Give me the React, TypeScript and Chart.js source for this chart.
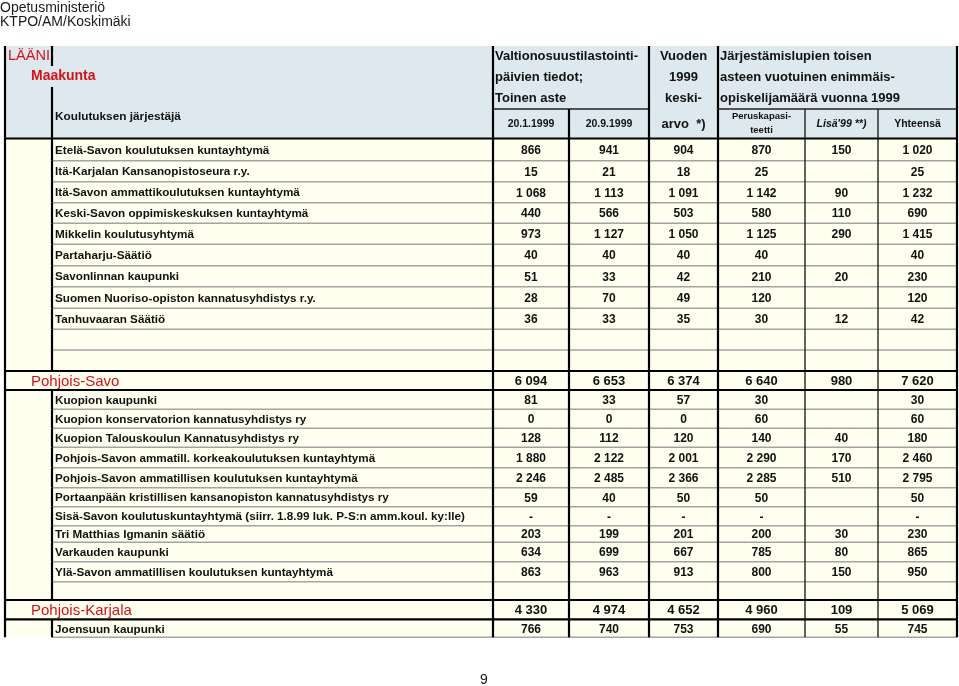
import React, { useEffect, useRef } from "react";
import { Chart, registerables } from "chart.js";

Chart.register(...registerables);

// ---------- texts ----------
const PAGE_HEADER = ["Opetusministeriö", "KTPO/AM/Koskimäki"];
const PAGE_NUMBER = "9";

const HEAD_LEVEL1 = "LÄÄNI";
const HEAD_LEVEL2 = "Maakunta";
const HEAD_ORGANISER = "Koulutuksen järjestäjä";
const HEAD_VOS = ["Valtionosuustilastointi-", "päivien tiedot;", "Toinen aste"];
const HEAD_AVG = ["Vuoden", "1999", "keski-", "arvo  *)"];
const HEAD_PERMIT = ["Järjestämislupien toisen", "asteen vuotuinen enimmäis-", "opiskelijamäärä vuonna 1999"];
const SUB_HEADERS: string[][] = [["20.1.1999"], ["20.9.1999"], [], ["Peruskapasi-", "teetti"], ["Lisä'99 **)"], ["Yhteensä"]];

// ---------- data ----------
const ROW_LABELS = [
  "Etelä-Savon koulutuksen kuntayhtymä",
  "Itä-Karjalan Kansanopistoseura r.y.",
  "Itä-Savon ammattikoulutuksen kuntayhtymä",
  "Keski-Savon oppimiskeskuksen kuntayhtymä",
  "Mikkelin koulutusyhtymä",
  "Partaharju-Säätiö",
  "Savonlinnan kaupunki",
  "Suomen Nuoriso-opiston kannatusyhdistys r.y.",
  "Tanhuvaaran Säätiö",
  "",
  "",
  "Pohjois-Savo",
  "Kuopion kaupunki",
  "Kuopion konservatorion kannatusyhdistys ry",
  "Kuopion Talouskoulun Kannatusyhdistys ry",
  "Pohjois-Savon ammatill. korkeakoulutuksen kuntayhtymä",
  "Pohjois-Savon ammatillisen koulutuksen kuntayhtymä",
  "Portaanpään kristillisen kansanopiston kannatusyhdistys ry",
  "Sisä-Savon koulutuskuntayhtymä (siirr. 1.8.99 luk. P-S:n amm.koul. ky:lle)",
  "Tri Matthias Igmanin säätiö",
  "Varkauden kaupunki",
  "Ylä-Savon ammatillisen koulutuksen kuntayhtymä",
  "",
  "Pohjois-Karjala",
  "Joensuun kaupunki",
];
const ROW_KIND = [
  "item", "item", "item", "item", "item", "item", "item", "item", "item", "blank", "blank",
  "group",
  "item", "item", "item", "item", "item", "item", "item", "item", "item", "item", "blank",
  "group",
  "item",
];

type V = number | string | null;
const VOS_20_1_1999: V[] = [866, 15, 1068, 440, 973, 40, 51, 28, 36, null, null, 6094, 81, 0, 128, 1880, 2246, 59, "-", 203, 634, 863, null, 4330, 766];
const VOS_20_9_1999: V[] = [941, 21, 1113, 566, 1127, 40, 33, 70, 33, null, null, 6653, 33, 0, 112, 2122, 2485, 40, "-", 199, 699, 963, null, 4974, 740];
const AVG_1999: V[] = [904, 18, 1091, 503, 1050, 40, 42, 49, 35, null, null, 6374, 57, 0, 120, 2001, 2366, 50, "-", 201, 667, 913, null, 4652, 753];
const PERUSKAPASITEETTI: V[] = [870, 25, 1142, 580, 1125, 40, 210, 120, 30, null, null, 6640, 30, 60, 140, 2290, 2285, 50, "-", 200, 785, 800, null, 4960, 690];
const LISA_99: V[] = [150, null, 90, 110, 290, null, 20, null, 12, null, null, 980, null, null, 40, 170, 510, null, null, 30, 80, 150, null, 109, 55];
const YHTEENSA: V[] = [1020, 25, 1232, 690, 1415, 40, 230, 120, 42, null, null, 7620, 30, 60, 180, 2460, 2795, 50, "-", 230, 865, 950, null, 5069, 745];
const VALUE_COLUMNS = [VOS_20_1_1999, VOS_20_9_1999, AVG_1999, PERUSKAPASITEETTI, LISA_99, YHTEENSA];

// ---------- layout ----------
const COL_WIDTHS = [47, 441, 76, 80, 69, 87, 73, 79];
const HEADER_ROW_HEIGHTS = [20, 21, 22, 29.5];
const BODY_ROW_HEIGHTS = [22.2, 21, 21, 20.6, 21, 21.4, 21, 21.6, 21, 20.7, 21, 19, 19.3, 19, 19, 20.4, 20, 19, 19, 16.6, 19.4, 20, 18.3, 19.3, 18];

const W = 959;
const H = 686;
const PAD = { left: 5, top: 46, right: 2, bottom: 48.7 };

const FONT = '"Liberation Sans", Arial, Helvetica, sans-serif';
const HEAD_BG = "#dde9ee";
const BODY_BG = "#fffff0";
const RED = "#d3131b";
const INK = "#111111";
const GRID_GRAY = "#a3a3a3";

function cum(arr: number[]) {
  const out = [0];
  arr.forEach((a) => out.push(out[out.length - 1] + a));
  return out;
}
const COL_EDGES = cum(COL_WIDTHS);
const ROW_EDGES = cum([...HEADER_ROW_HEIGHTS, ...BODY_ROW_HEIGHTS]);
const NH = HEADER_ROW_HEIGHTS.length;
const TABLE_W = COL_EDGES[COL_EDGES.length - 1];
const TABLE_H = ROW_EDGES[ROW_EDGES.length - 1];
const HEADER_H = ROW_EDGES[NH];

const fmt = (v: V) =>
  v === null ? "" : typeof v === "string" ? v : String(v).replace(/\B(?=(\d{3})+(?!\d))/g, " ");

const tablePlugin = {
  id: "tableDraw",
  afterDraw(chart: any) {
    const ctx: CanvasRenderingContext2D = chart.ctx;
    const sx = chart.scales.x;
    const sy = chart.scales.y;
    const X = (u: number) => sx.getPixelForValue(u);
    const Y = (u: number) => sy.getPixelForValue(u);
    const ca = chart.chartArea;

    ctx.save();
    // backgrounds
    ctx.fillStyle = HEAD_BG;
    ctx.fillRect(X(0), Y(0), X(TABLE_W) - X(0), Y(HEADER_H) - Y(0));
    ctx.fillStyle = BODY_BG;
    ctx.fillRect(X(0), Y(HEADER_H), X(TABLE_W) - X(0), Y(TABLE_H) - Y(HEADER_H));

    const line = (x1: number, y1: number, x2: number, y2: number, w: number, c: string) => {
      ctx.beginPath();
      ctx.strokeStyle = c;
      ctx.lineWidth = w;
      ctx.moveTo(X(x1), Y(y1));
      ctx.lineTo(X(x2), Y(y2));
      ctx.stroke();
    };
    const THICK = 2.2;
    const THIN = 1.3;

    // body horizontal lines
    const nRows = ROW_LABELS.length;
    for (let i = 0; i < nRows; i++) {
      const bottom = ROW_EDGES[NH + i + 1];
      const next = ROW_KIND[i + 1];
      if (ROW_KIND[i] === "group" || next === "group") continue;
      line(COL_EDGES[1], bottom, TABLE_W, bottom, 1.5, GRID_GRAY);
    }
    // thick full-width lines around groups & under header
    line(0, HEADER_H, TABLE_W, HEADER_H, THICK, "#000");
    for (let i = 0; i < nRows; i++) {
      if (ROW_KIND[i] === "group") {
        line(0, ROW_EDGES[NH + i], TABLE_W, ROW_EDGES[NH + i], THICK, "#000");
        line(0, ROW_EDGES[NH + i + 1], TABLE_W, ROW_EDGES[NH + i + 1], THICK, "#000");
      }
    }
    // header inner horizontal line
    line(COL_EDGES[2], ROW_EDGES[3], COL_EDGES[4], ROW_EDGES[3], THIN, "#222");
    line(COL_EDGES[5], ROW_EDGES[3], COL_EDGES[8], ROW_EDGES[3], THIN, "#222");

    // vertical lines
    line(0, 0, 0, TABLE_H, THICK, "#000");
    line(COL_EDGES[1], 0, COL_EDGES[1], ROW_EDGES[1], THICK, "#000");
    line(COL_EDGES[1], ROW_EDGES[2], COL_EDGES[1], HEADER_H, THICK, "#000");
    for (let i = 0; i < nRows; i++) {
      if (ROW_KIND[i] !== "group") line(COL_EDGES[1], ROW_EDGES[NH + i], COL_EDGES[1], ROW_EDGES[NH + i + 1], THICK, "#000");
    }
    [2, 4, 5, 8].forEach((c) => line(COL_EDGES[c], 0, COL_EDGES[c], TABLE_H, THICK, "#000"));
    line(COL_EDGES[3], ROW_EDGES[3], COL_EDGES[3], TABLE_H, THICK, "#000");
    [6, 7].forEach((c) => line(COL_EDGES[c], ROW_EDGES[3], COL_EDGES[c], TABLE_H, THIN, "#111"));

    // text helper
    const text = (s: string, x: number, y: number, font: string, color: string, align: CanvasTextAlign) => {
      ctx.font = font;
      ctx.fillStyle = color;
      ctx.textAlign = align;
      ctx.textBaseline = "middle";
      ctx.fillText(s, x, y);
    };
    const rowMid = (r: number) => (Y(ROW_EDGES[r]) + Y(ROW_EDGES[r + 1])) / 2;
    const colMid = (c: number) => (X(COL_EDGES[c]) + X(COL_EDGES[c + 1])) / 2;

    // page texts
    text(PAGE_HEADER[0], ca.left - 5, ca.top - 37.5, `14px ${FONT}`, "#1a1a1a", "left");
    text(PAGE_HEADER[1], ca.left - 5, ca.top - 23.5, `14px ${FONT}`, "#1a1a1a", "left");
    text(PAGE_NUMBER, X(TABLE_W / 2) + 3, ca.bottom + 43, `14px ${FONT}`, "#1a1a1a", "center");

    // header
    text(HEAD_LEVEL1, X(COL_EDGES[0] + 3), rowMid(0), `14.5px ${FONT}`, RED, "left");
    text(HEAD_LEVEL2, X(COL_EDGES[0] + 26), rowMid(1), `bold 14px ${FONT}`, RED, "left");
    text(HEAD_ORGANISER, X(COL_EDGES[1] + 3), Y(ROW_EDGES[3] + 8), `bold 11.8px ${FONT}`, INK, "left");
    HEAD_VOS.forEach((s, i) => text(s, X(COL_EDGES[2] + 2), rowMid(i) + 0.5, `bold 13px ${FONT}`, INK, "left"));
    HEAD_AVG.forEach((s, i) => text(s, colMid(4), rowMid(i) + 0.5, `bold 13px ${FONT}`, INK, "center"));
    HEAD_PERMIT.forEach((s, i) => text(s, X(COL_EDGES[5] + 2), rowMid(i) + 0.5, `bold 13px ${FONT}`, INK, "left"));
    SUB_HEADERS.forEach((lines, k) => {
      const c = k + 2;
      const italic = lines[0] && lines[0].startsWith("Lisä");
      const size = lines.length > 1 ? 9.5 : 10.5;
      lines.forEach((s, j) => {
        const off = lines.length > 1 ? (j - 0.5) * 14 : 0;
        text(s, colMid(c), rowMid(3) + off, `${italic ? "italic " : ""}bold ${size}px ${FONT}`, INK, "center");
      });
    });

    // body
    for (let i = 0; i < nRows; i++) {
      const r = NH + i;
      const ym = rowMid(r) + 1;
      if (ROW_KIND[i] === "item") {
        text(ROW_LABELS[i], X(COL_EDGES[1] + 3), ym, `bold 11.7px ${FONT}`, INK, "left");
        VALUE_COLUMNS.forEach((col, k) => text(fmt(col[i]), colMid(k + 2), ym, `bold 12px ${FONT}`, INK, "center"));
      } else if (ROW_KIND[i] === "group") {
        text(ROW_LABELS[i], X(COL_EDGES[0] + 26), ym, `15px ${FONT}`, RED, "left");
        VALUE_COLUMNS.forEach((col, k) => text(fmt(col[i]), colMid(k + 2), ym, `bold 13px ${FONT}`, INK, "center"));
      }
    }
    ctx.restore();
  },
};

export default function App() {
  const ref = useRef<HTMLCanvasElement | null>(null);
  useEffect(() => {
    document.body.style.margin = "0";
    const canvas = ref.current;
    if (!canvas) return;
    const chart = new Chart(canvas, {
      type: "scatter",
      data: { datasets: [] },
      options: {
        animation: false,
        responsive: false,
        maintainAspectRatio: false,
        devicePixelRatio: 1,
        layout: { padding: PAD },
        plugins: { legend: { display: false }, tooltip: { enabled: false }, title: { display: false } },
        scales: {
          x: { type: "linear", min: 0, max: TABLE_W, display: false },
          y: { type: "linear", min: 0, max: TABLE_H, reverse: true, display: false },
        },
      },
      plugins: [tablePlugin],
    } as any);
    return () => chart.destroy();
  }, []);
  return (
    <div style={{ width: W, height: H, background: "#fff" }}>
      <canvas ref={ref} width={W} height={H} style={{ display: "block", width: W, height: H }} />
    </div>
  );
}
